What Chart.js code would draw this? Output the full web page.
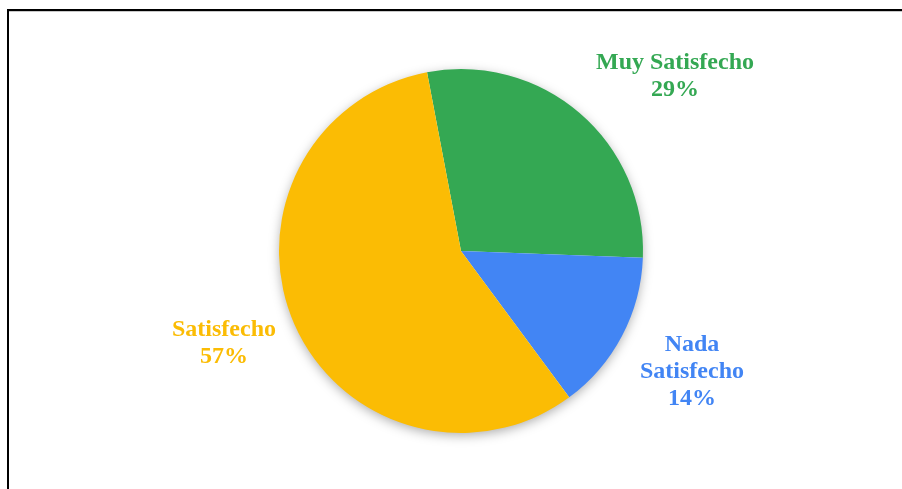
<!DOCTYPE html>
<html>
<head>
<meta charset="utf-8">
<script src="https://cdn.jsdelivr.net/npm/chart.js@4/dist/chart.umd.min.js"></script>
<style>
  html, body { margin: 0; padding: 0; background: #fff; }
  #wrap { position: relative; width: 902px; height: 489px; overflow: hidden; }
  #frame {
    position: absolute; left: 7px; top: 9px; width: 900px; height: 490px;
    border-top: 2px solid #000; border-left: 2px solid #000;
    box-shadow: inset 0 1px 0 #c8c8c8;
  }
  canvas { position: absolute; left: 0; top: 0; }
</style>
</head>
<body>
<div id="wrap">
  <div id="frame"></div>
  <canvas id="chart" width="902" height="489"></canvas>
</div>
<script>
// Survey answers (number of respondents per satisfaction level)
const categories = ['Muy Satisfecho', 'Nada Satisfecho', 'Satisfecho'];
const responses = [2, 1, 4];
const sliceColors = ['#34A853', '#4285F4', '#FBBC04'];

// Multi-line captions for each slice
const captionLines = [['Muy Satisfecho'], ['Nada', 'Satisfecho'], ['Satisfecho']];
// Caption anchor offsets from the pie centre (px)
const captionOffsets = [[214, -188], [231, 94], [-237, 79]];

const total = responses.reduce((a, b) => a + b, 0);
const percentLabels = responses.map(v => Math.round(v / total * 100) + '%');

// Soft drop shadow under the whole pie
const pieShadow = {
  id: 'pieShadow',
  beforeDatasetsDraw(chart) {
    const arc = chart.getDatasetMeta(0).data[0];
    if (!arc) return;
    const ctx = chart.ctx;
    ctx.save();
    ctx.shadowColor = 'rgba(0,0,0,0.35)';
    ctx.shadowBlur = 12;
    ctx.shadowOffsetY = 3;
    ctx.fillStyle = '#ffffff';
    ctx.beginPath();
    ctx.arc(arc.x, arc.y, arc.outerRadius - 1, 0, Math.PI * 2);
    ctx.fill();
    ctx.restore();
  }
};

// Category + percentage captions beside the slices
const sliceCaptions = {
  id: 'sliceCaptions',
  afterDatasetsDraw(chart) {
    const meta = chart.getDatasetMeta(0);
    const ctx = chart.ctx;
    ctx.save();
    ctx.font = 'bold 24px "Liberation Serif", "Times New Roman", serif';
    ctx.textAlign = 'center';
    ctx.textBaseline = 'middle';
    meta.data.forEach((arc, i) => {
      const lines = captionLines[i].concat([percentLabels[i]]);
      const cx = arc.x + captionOffsets[i][0];
      let cy = arc.y + captionOffsets[i][1];
      ctx.fillStyle = sliceColors[i];
      lines.forEach(line => {
        ctx.fillText(line, cx, cy);
        cy += 27;
      });
    });
    ctx.restore();
  }
};

new Chart(document.getElementById('chart'), {
  type: 'pie',
  data: {
    labels: categories,
    datasets: [{
      data: responses,
      backgroundColor: sliceColors,
      borderWidth: 0,
      hoverOffset: 0
    }]
  },
  options: {
    responsive: false,
    animation: false,
    rotation: -10.76,
    layout: { padding: { top: 69, bottom: 56, left: 20, right: 0 } },
    plugins: {
      legend: { display: false },
      tooltip: { enabled: false }
    }
  },
  plugins: [pieShadow, sliceCaptions]
});
</script>
</body>
</html>
